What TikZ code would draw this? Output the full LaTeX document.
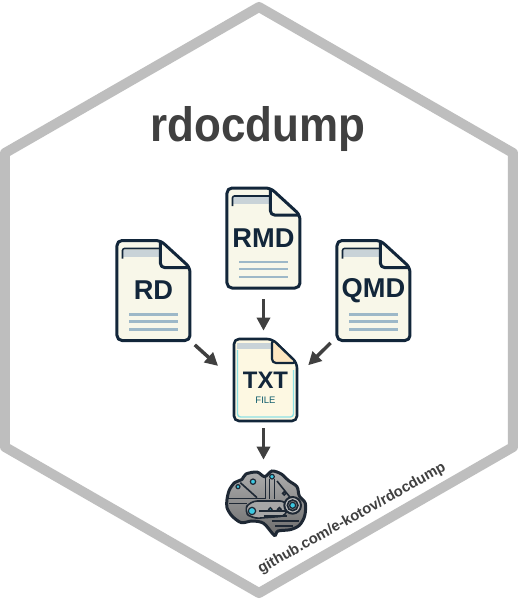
\documentclass[tikz,border=0pt]{standalone}
\usepackage{fontspec}
\setmainfont{Liberation Sans}
\newfontfamily\titlefont[FakeStretch=.91]{Liberation Sans}
\usetikzlibrary{arrows.meta,calc,positioning}
\definecolor{hexgrey}{RGB}{190,190,190}
\definecolor{inkgrey}{RGB}{64,64,64}
\definecolor{docnavy}{RGB}{18,38,58}
\definecolor{doccream}{RGB}{248,247,233}
\definecolor{txtcream}{RGB}{253,248,226}
\definecolor{rulesteel}{RGB}{157,184,200}
\definecolor{bandgrey}{RGB}{201,211,216}
\definecolor{brainink}{RGB}{30,40,52}
\definecolor{braincyan}{RGB}{60,200,225}
\newlength\pxu
\setlength\pxu{0.02cm}
\begin{document}
\begin{tikzpicture}[x=.02cm,y=-.02cm,
      docnode/.style={inner sep=0pt,minimum width=73\pxu,minimum height=100\pxu,text=docnavy,font=\bfseries\fontsize{15.5}{16}\selectfont},
      docline/.style={draw=docnavy,line width=3\pxu,rounded corners=5\pxu,line join=round},
      a/.style={-{Triangle[length=7.4pt,width=7.4pt]},line width=3.5\pxu,draw=inkgrey},
      trace/.style={draw=brainink,line width=1.6\pxu},
      led/.style={fill=braincyan,draw=brainink,line width=1.2\pxu}]
      \useasboundingbox (0,0) rectangle (518,600);
      \fill[white] (0,0) rectangle (518,600);
      \draw[hexgrey,line width=10\pxu,line join=round] (259,7)--(513,153)--(513,447)--(259,593)--(5,447)--(5,153)--cycle;
      \node[anchor=base,text=inkgrey,font=\titlefont\bfseries\fontsize{27.5}{28}\selectfont] (title) at (258,141) {rdocdump};
      % source files
      \foreach \nm/\cx/\cy/\lbl in {rd/153.5/290.5/RD,rmd/263.5/238/RMD,qmd/373.5/290.5/QMD} {
        \begin{scope}[shift={(\cx,\cy)}]
          \draw[docline,fill=doccream] (-36.5,-50)--(7,-50)--(36.5,-23)--(36.5,50)--(-36.5,50)--cycle;
          \fill[bandgrey] (-30,-41) rectangle (7,-34);
          \draw[docnavy,line width=1.6\pxu,rounded corners=2\pxu] (-31,-32)--(-31,-42)--(7,-42);
          \draw[docline,rounded corners=4\pxu] (7,-50)--(7,-23)--(36.5,-23);
          \foreach \ly in {24,31,39} \draw[rulesteel,line width=2.4\pxu] (-24,\ly)--(25,\ly);
        \end{scope}
        \node[docnode] (\nm) at (\cx,\cy) {\lbl};
      }
      % merged file
      \begin{scope}[shift={(265.5,380)}]
        \draw[docline,line width=2.6\pxu,fill=txtcream] (-31.5,-41)--(6.5,-41)--(31.5,-17)--(31.5,41)--(-31.5,41)--cycle;
        \draw[bandgrey!70!cyan,line width=1.4\pxu,rounded corners=3\pxu] (-28,-30)--(-28,37)--(28,37)--(28,-10);
        \fill[bandgrey] (-28,-37) rectangle (6,-31);
        \draw[docline,line width=2.2\pxu,fill=txtcream!85!orange,rounded corners=4\pxu] (6.5,-41)--(6.5,-17)--(31.5,-17)--cycle;
      \end{scope}
      \node[docnode,minimum width=63\pxu,minimum height=82\pxu,font=\bfseries\fontsize{13.6}{15}\selectfont] (txt) at (265.5,380) {\raisebox{-1.5\pxu}{TXT}};
      \node[text=docnavy!75!cyan,inner sep=0pt,font=\fontsize{5.4}{6}\selectfont,below=16.5\pxu of txt.center] (filetag) {FILE};
      % brain
      \node[inner sep=0pt,minimum width=77\pxu,minimum height=63\pxu] (brain) at (265,502.5) {};
      \begin{scope}[shift={(222,466)},scale=.3333]
        \draw[draw=brainink,line width=3\pxu,top color=black!32,bottom color=black!58]
          plot[smooth cycle,tension=.5] coordinates {(15,100) (22,72) (38,50) (60,40) (72,24) (105,18) (128,32) (150,15) (178,24) (200,44) (225,62) (232,90) (250,112) (248,150) (232,178) (205,191) (168,195) (157,208) (125,172) (90,165) (58,170) (30,150) (15,125)};
        \draw[trace] (16,97)--(130,97)--(130,32);
        \draw[trace] (20,113)--(75,113);
        \draw[trace] (143,40)--(143,100);
        \draw[trace] (157,40)--(157,98);
        \draw[trace] (165,45)--(205,95);
        \draw[trace] (55,50)--(105,95);
        \draw[trace,fill=black!35,rounded corners=7\pxu] (65,135)--(85,105)--(195,105)--(195,150)--(90,158)--cycle;
        \draw[trace] (110,135)--(195,135);
        \draw[trace] (125,150)--(195,150);
        \draw[trace] (150,165)--(232,165);
        \draw[trace] (160,180)--(212,180);
        \draw[brainink,line width=2\pxu,fill=black!25] (212,118) circle (25);
        \draw[brainink,line width=1.6\pxu,fill=black!50] (212,118) circle (16);
        \draw[led] (212,118) circle (9);
        \draw[led] (150,32) circle (7);
        \draw[led] (93,47) circle (8);
        \draw[led] (48,62) circle (6);
        \draw[led] (90,135) circle (11);
        \draw[led] (145,130) circle (5);
        \draw[trace,fill=black!40] (172,130) circle (5);
        \draw[trace,fill=black!40] (187,82) circle (5);
      \end{scope}
      % arrows
      \draw[a,shorten <=11\pxu,shorten >=8\pxu] (rmd.south)--(rmd.south |- txt.north);
      \draw[a,shorten <=6\pxu,shorten >=21\pxu] (rd.south east)--(txt.west);
      \draw[a,shorten <=3\pxu,shorten >=21\pxu] ([xshift=-4\pxu]qmd.south west)--([xshift=-4\pxu]txt.east);
      \draw[a,shorten <=7\pxu,shorten >=11\pxu] (rmd.south |- txt.south)--(rmd.south |- brain.north);
      \node[rotate=29.2,text=inkgrey,font=\bfseries\fontsize{8.4}{9}\selectfont] (repo) at (352,518.5) {github.com/e-kotov/rdocdump};
    \end{tikzpicture}
\end{document}
